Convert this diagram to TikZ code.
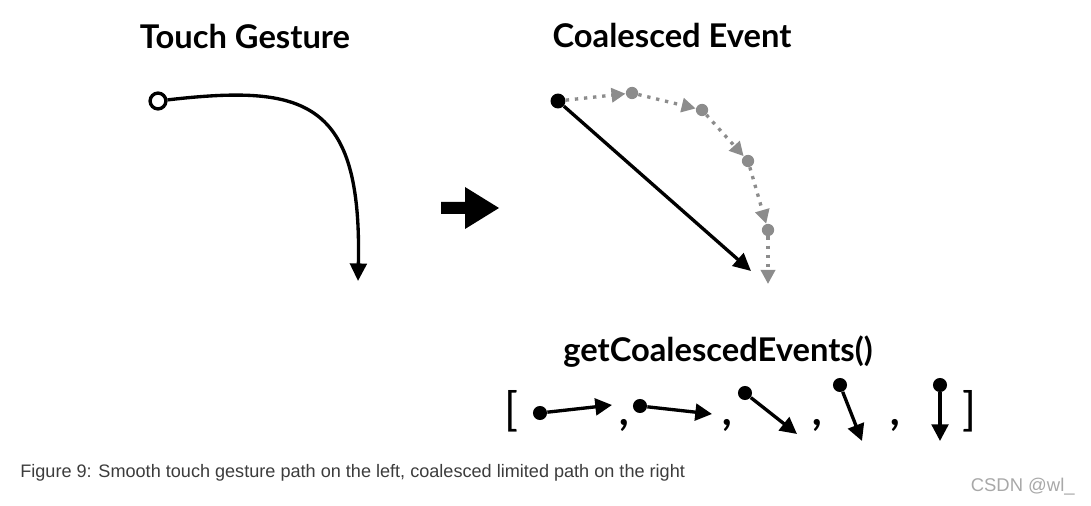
\documentclass[tikz,border=0pt]{standalone}
\usepackage{fontspec}
\setmainfont{Lato}
\newfontfamily\capfont{Liberation Sans}
\usetikzlibrary{arrows.meta}

\definecolor{pathgray}{HTML}{8C8C8C}
\definecolor{capgray}{HTML}{3C3C3C}
\definecolor{markgray}{HTML}{A8A8A8}

\tikzset{
  title/.style={font=\fontsize{18.6}{22}\selectfont\bfseries},
  bigline/.style={line width=1.9pt, -{Triangle[length=10pt,width=9.5pt]}},
  dotline/.style={line width=1.9pt, pathgray, dash pattern=on 1.9pt off 3.3pt,
    -{Triangle[length=8pt,width=8pt]}},
  dot/.style={circle, fill=black, inner sep=0pt, minimum size=8pt},
  graydot/.style={circle, fill=pathgray, inner sep=0pt, minimum size=7pt},
  smallline/.style={line width=1.9pt, -{Triangle[length=9.5pt,width=9.5pt]}},
  sep/.style={font=\fontsize{26}{28}\selectfont},
  comma/.style={font=\fontsize{24}{26}\selectfont\bfseries\itshape}
}

\begin{document}
\begin{tikzpicture}[x=0.02cm,y=-0.02cm]
\useasboundingbox (0,0) rectangle (1091,506);

% Titles
\node[title] (ttouch) at (245,36) {Touch Gesture};
\node[title] (tcoal) at (672,35) {Coalesced Event};
\node[title] (tget) at (718,352) {getCoalescedEvents()};

% Touch gesture
\node[circle, draw, line width=1.9pt, fill=white, inner sep=0pt, minimum size=9pt] (s) at (158,101) {};
\coordinate (e) at (358,281);
\draw[bigline] (s) .. controls (305,84) and (362,100) .. (e);

% Big arrow
\fill (441,202) -- (465,202) -- (465,187) -- (499,208) -- (465,229) -- (465,214) -- (441,214) -- cycle;

% Coalesced event
\node[graydot] (p1) at (632,93) {};
\node[graydot] (p2) at (702,110) {};
\node[graydot] (p3) at (748,161) {};
\node[graydot] (p4) at (768,230) {};
\coordinate (p5) at (768,284);
\node[dot, minimum size=8.5pt] (p0) at (558,101) {};
\draw[dotline] (p0) -- (p1);
\draw[dotline] (p1) -- (p2);
\draw[dotline] (p2) -- (p3);
\draw[dotline] (p3) -- (p4);
\draw[dotline] (p4) -- (p5);
\coordinate (q) at (751,271);
\draw[bigline] (p0) -- (q);

% Event list
\node[sep] (lb) at (511,411) {[};
\node[sep] (rb) at (969,411) {]};
\node[comma] (c1) at (625,425) {,};
\node[comma] (c2) at (728,425) {,};
\node[comma] (c3) at (818,425) {,};
\node[comma] (c4) at (896,425) {,};

\node[dot] (b1) at (540,413) {};
\node[dot] (b2) at (640,406) {};
\node[dot] (b3) at (745,393) {};
\node[dot] (b4) at (840,385) {};
\node[dot] (b5) at (940,385) {};
\coordinate (t1) at (612,405);
\coordinate (t2) at (712,414);
\coordinate (t3) at (797,434);
\coordinate (t4) at (862,441);
\coordinate (t5) at (940,441);
\draw[smallline] (b1) -- (t1);
\draw[smallline] (b2) -- (t2);
\draw[smallline] (b3) -- (t3);
\draw[smallline] (b4) -- (t4);
\draw[smallline] (b5) -- (t5);

% Caption
\node[anchor=west, inner sep=0pt, capgray, font=\capfont\fontsize{10.3}{12}\selectfont] (cap) at (20,473)
  {Figure 9: Smooth touch gesture path on the left, coalesced limited path on the right};
\node[anchor=east, inner sep=0pt, markgray, font=\capfont\fontsize{10.5}{12}\selectfont] (mark) at (1075,487) {CSDN @wl\_};
\end{tikzpicture}
\end{document}
